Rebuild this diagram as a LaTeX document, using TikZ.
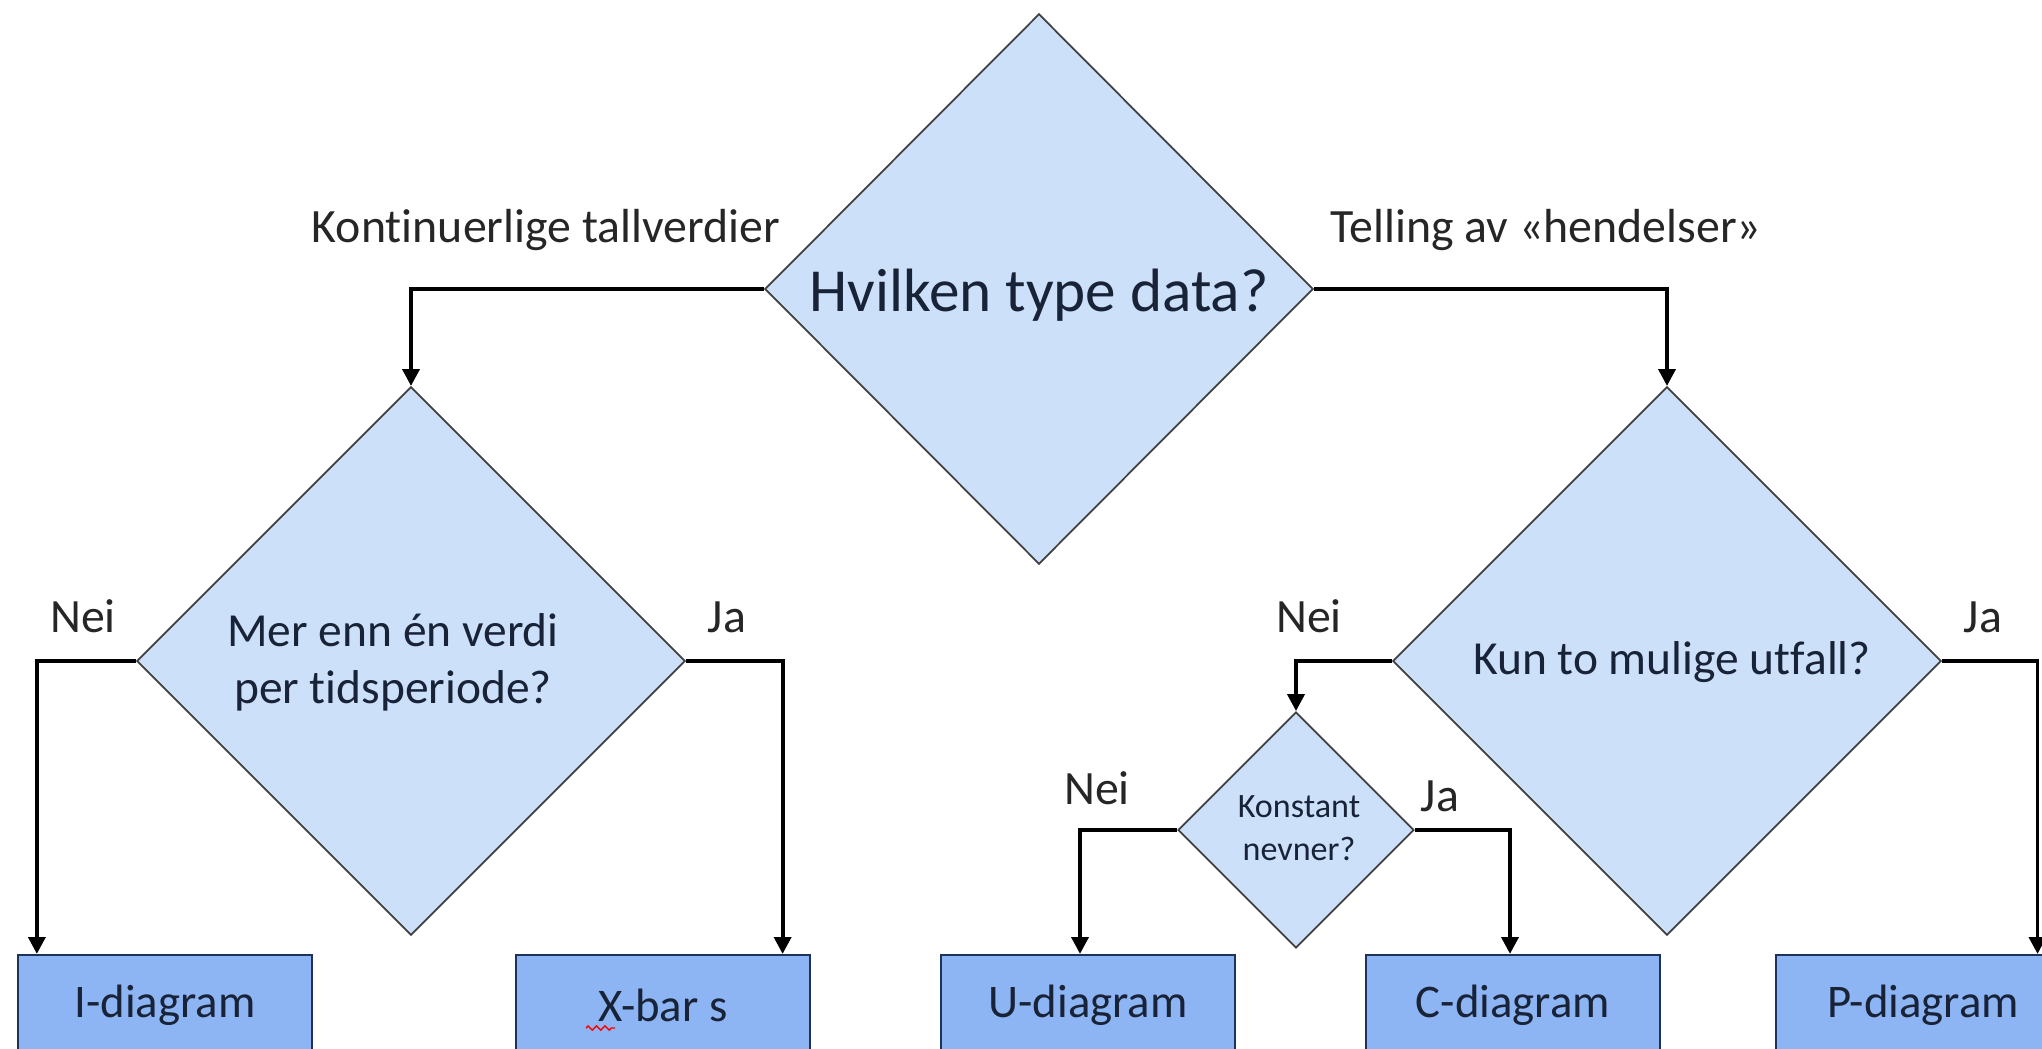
\documentclass[tikz,border=0pt]{standalone}
\usepackage{fontspec}
\setmainfont{Carlito}[Ligatures=NoCommon]
\usetikzlibrary{shapes.geometric, arrows.meta, decorations.pathmorphing}
\definecolor{diafill}{RGB}{204,224,250}
\definecolor{boxfill}{RGB}{141,180,243}
\definecolor{boxline}{RGB}{31,50,90}
\definecolor{inktext}{RGB}{25,35,55}
\tikzstyle{decision} = [diamond, draw=black!75, line width=0.5pt, fill=diafill, inner sep=0pt]
\tikzstyle{question} = [text=inktext, align=center, inner sep=0pt]
\tikzstyle{chart} = [rectangle, minimum width=2.93cm, minimum height=1cm, draw=boxline, line width=0.6pt, fill=boxfill, text=inktext, font=\fontsize{13.3}{16}\selectfont]
\tikzstyle{answer} = [anchor=base, text=black!85, inner sep=0pt, font=\fontsize{13.6}{16}\selectfont]
\tikzstyle{arrow} = [line width=1.1pt, -{Triangle[length=4.8pt,width=4.8pt]}]

\begin{document}
\begin{tikzpicture}[x=0.01cm, y=-0.01cm]
			\useasboundingbox (0,0) rectangle (2042,1048);
			\clip (0,0) rectangle (2042,1048);

			% spoersmaal
			\node[decision, minimum width=5.48cm, minimum height=5.5cm] (q1) at (1039,289) {};
			\node[decision, minimum width=5.48cm, minimum height=5.48cm] (q2) at (411,661) {};
			\node[decision, minimum width=5.48cm, minimum height=5.48cm] (q3) at (1667,661) {};
			\node[decision, minimum width=2.36cm, minimum height=2.36cm] (q4) at (1296,830) {};

			\node[question, font=\fontsize{17.4}{20}\selectfont] (q1txt) at (1039,295) {Hvilken type data?};
			\node[question, font=\fontsize{13.5}{16.2}\selectfont] (q2txt) at (393,662) {Mer enn én verdi\\per tidsperiode?};
			\node[question, font=\fontsize{13.5}{16.2}\selectfont] (q3txt) at (1672,662) {Kun to mulige utfall?};
			\node[question, font=\fontsize{9.7}{12.2}\selectfont] (q4txt) at (1299,828) {Konstant\\nevner?};

			% diagramtyper
			\node[chart, minimum width=2.94cm] (iBox) at (165,1005) {I-diagram};
			\node[chart] (xBox) at (663,1005) {X-bar s};
			\node[chart] (uBox) at (1088,1005) {U-diagram};
			\node[chart] (cBox) at (1513,1005) {C-diagram};
			\node[chart] (pBox) at (1923,1005) {P-diagram};
			\draw[red, line width=0.4pt, decorate, decoration={zigzag, amplitude=0.6pt, segment length=2.4pt}] (586,1028) -- (615,1028);

			% svar
			\node[answer] (aLeft) at (546,242) {Kontinuerlige tallverdier};
			\node[answer] (aRight) at (1546,242) {Telling av «hendelser»};
			\node[answer] (n1) at (83,632) {Nei};
			\node[answer] (j1) at (727,632) {Ja};
			\node[answer] (n2) at (1309,632) {Nei};
			\node[answer] (j2) at (1983,632) {Ja};
			\node[answer] (n3) at (1097,804) {Nei};
			\node[answer] (j3) at (1440,811) {Ja};

			\draw [arrow] (q1.west) -| (q2.north);
			\draw [arrow] (q1.east) -| (q3.north);
			\draw [arrow] (q2.west) -| ([xshift=0.2cm]iBox.north west);
			\draw [arrow] (q2.east) -| ([xshift=-0.28cm]xBox.north east);
			\draw [arrow] (q3.west) -| (q4.north);
			\draw [arrow] (q3.east) -| ([xshift=2.62cm]pBox.north west);
			\draw [arrow] (q4.west) -| ([xshift=-0.08cm]uBox.north);
			\draw [arrow] (q4.east) -| ([xshift=-0.03cm]cBox.north);

		\end{tikzpicture}
\end{document}
